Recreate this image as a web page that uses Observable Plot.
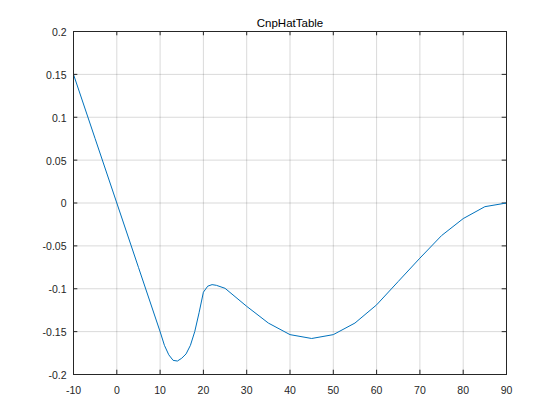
<!DOCTYPE html>
<html>
<head>
<meta charset="utf-8">
<script src="https://cdn.jsdelivr.net/npm/d3@7"></script>
<script src="https://cdn.jsdelivr.net/npm/@observablehq/plot@0.6"></script>
<style>
  html, body { margin: 0; padding: 0; background: #fff; }
  #chart { width: 560px; height: 420px; }
  svg { font-family: "Liberation Sans", Arial, sans-serif; }
</style>
</head>
<body>
<div id="chart"></div>
<script>
const chartTitle = "CnpHatTable";
const cnpX = [-10, -5, 0, 5, 10, 11, 12, 13, 14, 15, 16, 17, 18, 19, 20, 21, 22, 23, 25, 30, 35, 40, 45, 50, 55, 60, 65, 70, 75, 80, 85, 90];
const cnpY = [0.15, 0.075, 0, -0.075, -0.15, -0.166, -0.177, -0.1835, -0.1843, -0.181, -0.176, -0.166, -0.150, -0.128, -0.104, -0.097, -0.0952, -0.096, -0.0995, -0.1205, -0.140, -0.1535, -0.158, -0.1535, -0.140, -0.1188, -0.0915, -0.0643, -0.038, -0.0182, -0.0043, 0];
const xTicks = [-10, 0, 10, 20, 30, 40, 50, 60, 70, 80, 90];
const yTicks = [-0.2, -0.15, -0.1, -0.05, 0, 0.05, 0.1, 0.15, 0.2];

const data = cnpX.map((x, i) => ({x, y: cnpY[i]}));
const fmt = d => String(d);
const axisColor = "#262626";

const chart = Plot.plot({
  width: 560,
  height: 420,
  marginLeft: 73,
  marginRight: 54,
  marginTop: 31,
  marginBottom: 46,
  style: {fontFamily: '"Liberation Sans", Arial, sans-serif', fontSize: "10px", background: "#fff"},
  x: {domain: [-10, 90], ticks: xTicks, label: null},
  y: {domain: [-0.2, 0.2], ticks: yTicks, label: null},
  marks: [
    Plot.gridX(xTicks, {stroke: "#000", strokeOpacity: 0.15}),
    Plot.gridY(yTicks, {stroke: "#000", strokeOpacity: 0.15}),
    Plot.ruleX(xTicks, {x: d => d, y1: -0.2, y2: -0.195, stroke: axisColor}),
    Plot.ruleX(xTicks, {x: d => d, y1: 0.2, y2: 0.195, stroke: axisColor}),
    Plot.ruleY(yTicks, {y: d => d, x1: -10, x2: -9, stroke: axisColor}),
    Plot.ruleY(yTicks, {y: d => d, x1: 90, x2: 89, stroke: axisColor}),
    Plot.axisX(xTicks, {tickSize: 0, tickPadding: 12, tickFormat: fmt, fill: axisColor, fontSize: 10.5, label: null}),
    Plot.axisY(yTicks, {tickSize: 0, tickPadding: 7, dy: 1, tickFormat: fmt, fill: axisColor, fontSize: 10.5, label: null}),
    Plot.line(data, {x: "x", y: "y", stroke: "#0072BD", strokeWidth: 1}),
    Plot.frame({stroke: axisColor}),
    Plot.text([chartTitle], {frameAnchor: "top", dy: -13, text: d => d, fill: "#000", fontSize: 11.5})
  ]
});
document.getElementById("chart").appendChild(chart);
</script>
</body>
</html>
